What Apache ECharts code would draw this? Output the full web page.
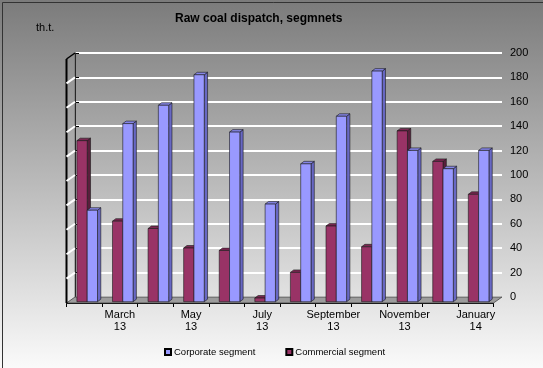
<!DOCTYPE html>
<html>
<head>
<meta charset="utf-8">
<script src="https://cdn.jsdelivr.net/npm/echarts@6/dist/echarts.min.js"></script>
<style>
html,body{margin:0;padding:0;background:#fff;}
#c{width:543px;height:368px;}
</style>
</head>
<body>
<div id="c"></div>
<script>
// ---- data ----
const months = ['February\n13','March\n13','April\n13','May\n13','June\n13','July\n13',
  'August\n13','September\n13','October\n13','November\n13','December\n13','January\n14'];
const corporate  = [75,146,161,186,139,80,113,152,189,124,109,124];
const commercial = [132,66,60,44,42,3,24,62,45,140,115,88];
const valueTicks = [0,20,40,60,80,100,120,140,160,180,200];
const seriesNames = ['Corporate segment','Commercial segment'];

// ---- layout / style ----
const FONT = "'Liberation Sans', Arial, sans-serif";
const DEPTH = [-8.5, 6];       // back wall -> front floor
const BAR_DEPTH = [3.3, 2.5];
const BAR_W = 0.29;

const chart = echarts.init(document.getElementById('c'), null, {renderer:'canvas'});

function barRender(offsetFrac, front, topC, side){
  return function(params, api){
    const cat = api.value(0), v = api.value(1);
    const base = api.coord([cat, 0]);
    const top = api.coord([cat, v]);
    const band = api.size([1,0])[0];
    const w = band*BAR_W;
    const x0 = base[0] + band*offsetFrac, x1 = x0 + w;
    const yt = top[1], yb = base[1];
    const dx = BAR_DEPTH[0], dy = BAR_DEPTH[1];
    const st = {stroke:'#1a1a1a', lineWidth:0.6};
    return {type:'group', children:[
      {type:'polygon', shape:{points:[[x1,yb],[x1,yt],[x1+dx,yt-dy],[x1+dx,yb-dy]]}, style:Object.assign({fill:side}, st)},
      {type:'polygon', shape:{points:[[x0,yt],[x1,yt],[x1+dx,yt-dy],[x0+dx,yt-dy]]}, style:Object.assign({fill:topC}, st)},
      {type:'rect', shape:{x:x0, y:yt, width:w, height:yb-yt}, style:Object.assign({fill:front}, st)}
    ]};
  };
}

function frameRender(params, api){
  const v = api.value(0);
  const p = api.coord([0, v]);
  const q = [p[0]+DEPTH[0], p[1]+DEPTH[1]];
  const children = [];
  if (v === 0) {
    const r = api.coord([1, 0]);
    const top = api.coord([0, valueTicks[valueTicks.length-1]]);
    children.push({type:'polygon', shape:{points:[[p[0],p[1]],[r[0],r[1]],[r[0]+DEPTH[0],r[1]+DEPTH[1]],[q[0],q[1]]]},
      style:{fill:'#9c9c9c', stroke:'#444', lineWidth:0.8}});
    children.push({type:'line', shape:{x1:p[0],y1:p[1],x2:top[0],y2:top[1]}, style:{stroke:'#666', lineWidth:0.8}});
    children.push({type:'line', shape:{x1:q[0],y1:q[1],x2:top[0]+DEPTH[0],y2:top[1]+DEPTH[1]}, style:{stroke:'#000', lineWidth:2}});
  } else if (v === valueTicks[valueTicks.length-1]) {
    children.push({type:'line', shape:{x1:p[0],y1:p[1],x2:q[0],y2:q[1]}, style:{stroke:'#000', lineWidth:1.5}});
  } else {
    children.push({type:'line', shape:{x1:p[0],y1:p[1],x2:q[0],y2:q[1]}, style:{stroke:'#fff', lineWidth:2}});
  }
  return {type:'group', children:children};
}

const back = {left:75, top:53, right:41, bottom:71};
const barsGrid = {left:back.left - 6.6, top:back.top + 4.7, right:back.right + 6.6, bottom:back.bottom - 4.7};
const frontGrid = {left:back.left + DEPTH[0], top:back.top + DEPTH[1], right:back.right - DEPTH[0], bottom:back.bottom - DEPTH[1]};

const option = {
  animation:false,
  backgroundColor: new echarts.graphic.LinearGradient(0,0,0,1,[
    {offset:0, color:'#7b7b7b'},{offset:1, color:'#fafafa'}]),
  textStyle:{fontFamily:FONT},
  title:[
    {text:'Raw coal dispatch, segmnets', left:170, top:8,
     textStyle:{fontSize:12, fontWeight:'bold', color:'#000', fontFamily:FONT}},
    {text:'th.t.', left:31, top:17, textStyle:{fontSize:11, fontWeight:'normal', color:'#000', fontFamily:FONT}}
  ],
  legend:{
    data:seriesNames, left:159, top:342, itemWidth:6, itemHeight:6, itemGap:30,
    icon:'rect',
    textStyle:{fontSize:9.5, color:'#000', fontFamily:FONT, padding:[0,0,0,-2]}
  },
  grid:[
    Object.assign({containLabel:false}, back),
    Object.assign({containLabel:false}, barsGrid),
    Object.assign({containLabel:false}, frontGrid)
  ],
  xAxis:[
    {gridIndex:0, type:'value', min:0, max:1, show:false},
    {gridIndex:1, type:'category', data:months, boundaryGap:true, show:false},
    {gridIndex:2, type:'category', data:months, boundaryGap:true,
     axisLine:{show:true, lineStyle:{color:'#000', width:1}},
     axisTick:{show:true, interval:0, length:4, lineStyle:{color:'#000'}},
     axisLabel:{interval:function(i){return i%2===1;}, margin:6, fontSize:11, lineHeight:12, color:'#000', fontFamily:FONT},
     splitLine:{show:false}}
  ],
  yAxis:[
    {gridIndex:0, type:'value', position:'right', min:0, max:200, interval:20,
     axisLine:{show:true, lineStyle:{color:'#000', width:1}},
     axisTick:{show:true, length:4, lineStyle:{color:'#000'}},
     axisLabel:{margin:8, fontSize:11, color:'#000', fontFamily:FONT},
     splitLine:{show:true, lineStyle:{color:'#ffffff', width:2}}},
    {gridIndex:1, type:'value', min:0, max:200, show:false},
    {gridIndex:2, type:'value', min:0, max:200, show:false}
  ],
  series:[
    {type:'custom', name:'frame', xAxisIndex:0, yAxisIndex:0, silent:true, z:1,
     data:valueTicks.map(v=>[v]), encode:{y:0}, renderItem:frameRender, legendHoverLink:false},
    {type:'custom', name:seriesNames[1], xAxisIndex:1, yAxisIndex:1, z:3,
     itemStyle:{color:'#993366', borderColor:'#000', borderWidth:0.5},
     data:commercial.map((v,i)=>[i,v]), encode:{x:0,y:1},
     renderItem:barRender(-0.261, '#993366', '#7a2852', '#5a1e3c')},
    {type:'custom', name:seriesNames[0], xAxisIndex:1, yAxisIndex:1, z:4,
     itemStyle:{color:'#9999ff', borderColor:'#000', borderWidth:0.5},
     data:corporate.map((v,i)=>[i,v]), encode:{x:0,y:1},
     renderItem:barRender(0.028, '#9999ff', '#8585e6', '#6868c4')}
  ],
  graphic:[
    {type:'rect', left:0, top:0, shape:{x:0.5, y:0.5, width:542, height:367}, style:{fill:null, stroke:'#333', lineWidth:1}, silent:true, z:100}
  ]
};
chart.setOption(option);
</script>
</body>
</html>
